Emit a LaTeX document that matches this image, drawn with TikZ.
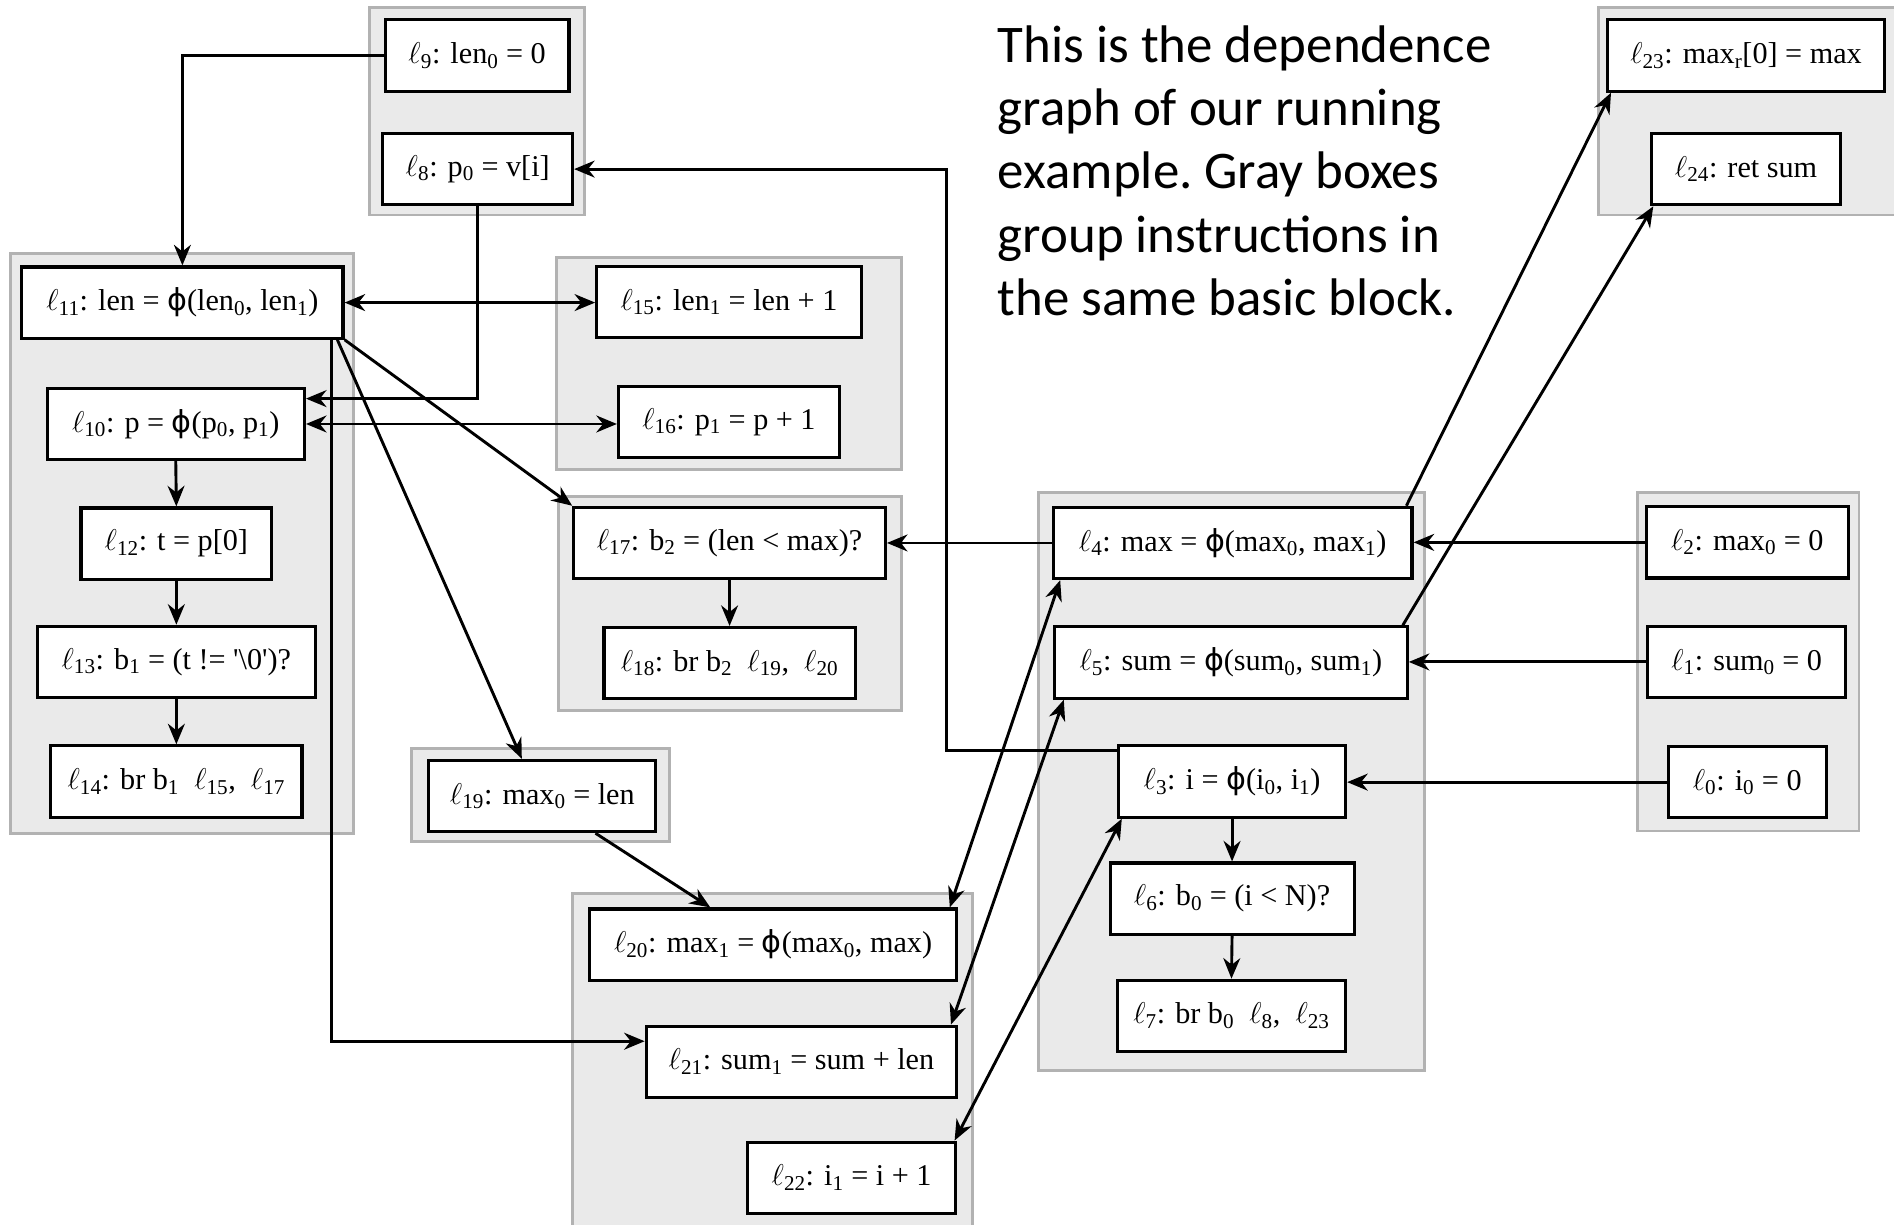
\documentclass[tikz,border=0pt]{standalone}
\usepackage{fontspec}
\setmainfont{Liberation Serif}
\newfontfamily\notefont{Carlito}
\newfontfamily\phifont{DejaVu Sans}
\usetikzlibrary{arrows.meta,calc}
\definecolor{groupfill}{HTML}{EAEAEA}
\definecolor{groupedge}{HTML}{B2B2B2}
% instruction label, subscript and phi helpers
\newcommand\lbl[1]{$\ell$\textsubscript{#1}}
\newcommand\sbs[1]{\textsubscript{#1}}
\newcommand\phis{{\phifont ϕ}}

\begin{document}
\begin{tikzpicture}[x=1pt,y=-1pt,
  group/.style={draw=groupedge, fill=groupfill, line width=2.4pt, inner sep=0pt},
  instr/.style={draw=black, fill=white, line width=2.6pt, inner sep=0pt,
    minimum height=59pt, font=\fontsize{25}{30}\selectfont},
  tip/.tip={Stealth[length=17pt,width=14pt,inset=5.5pt]},
  dep/.style={line width=2.4pt, -tip},
  dep2/.style={line width=2.4pt, tip-tip},
]
\fill[white] (0,0) rectangle (1568,1014);
\useasboundingbox (0,0) rectangle (1568,1014);
\clip (0,0) rectangle (1568,1014);

% basic blocks
\node[group, minimum width=178pt, minimum height=172pt] (g1) at (395,92) {};
\node[group, minimum width=284pt, minimum height=480pt] (g2) at (151,450) {};
\node[group, minimum width=285pt, minimum height=176pt] (g3) at (603.5,301) {};
\node[group, minimum width=284pt, minimum height=177pt] (g4) at (604,499.5) {};
\node[group, minimum width=213pt, minimum height=77pt]  (g5) at (447.5,658.5) {};
\node[group, minimum width=331pt, minimum height=284pt] (g6) at (639.5,882) {};
\node[group, minimum width=319pt, minimum height=478pt] (g7) at (1019.5,647) {};
\node[group, minimum width=183pt, minimum height=280pt] (g8) at (1447.5,548) {};
\node[group, minimum width=257pt, minimum height=172pt] (g9) at (1451.5,92) {};

% instructions
\node[instr, minimum width=152pt] (l9)  at (395,46)    {\lbl{9}: len\sbs{0} = 0};
\node[instr, minimum width=157pt] (l8)  at (395.5,140) {\lbl{8}: p\sbs{0} = v[i]};
\node[instr, minimum width=266pt] (l11) at (151,250.5) {\lbl{11}: len = \phis(len\sbs{0}, len\sbs{1})};
\node[instr, minimum width=213pt] (l10) at (145.5,351) {\lbl{10}: p = \phis(p\sbs{0}, p\sbs{1})};
\node[instr, minimum width=158pt] (l12) at (146,450)   {\lbl{12}: t = p[0]};
\node[instr, minimum width=230pt] (l13) at (146,548)   {\lbl{13}: b\sbs{1} = (t != \textquotesingle\textbackslash 0\textquotesingle)?};
\node[instr, minimum width=208pt] (l14) at (146,647)   {\lbl{14}: br b\sbs{1}\ \ \lbl{15},\ \ \lbl{17}};
\node[instr, minimum width=219pt] (l15) at (603.5,250) {\lbl{15}: len\sbs{1} = len + 1};
\node[instr, minimum width=183pt] (l16) at (603.5,349.5) {\lbl{16}: p\sbs{1} = p + 1};
\node[instr, minimum width=258pt] (l17) at (604,449.5) {\lbl{17}: b\sbs{2} = (len < max)?};
\node[instr, minimum width=208pt] (l18) at (604,549)   {\lbl{18}: br b\sbs{2}\ \ \lbl{19},\ \ \lbl{20}};
\node[instr, minimum width=188pt] (l19) at (449,659)   {\lbl{19}: max\sbs{0} = len};
\node[instr, minimum width=304pt] (l20) at (640,782)   {\lbl{20}: max\sbs{1} = \phis(max\sbs{0}, max)};
\node[instr, minimum width=257pt] (l21) at (663.5,879) {\lbl{21}: sum\sbs{1} = sum + len};
\node[instr, minimum width=172pt] (l22) at (705,975)   {\lbl{22}: i\sbs{1} = i + 1};
\node[instr, minimum width=297pt] (l4)  at (1020.5,449.5) {\lbl{4}: max = \phis(max\sbs{0}, max\sbs{1})};
\node[instr, minimum width=292pt] (l5)  at (1019,548.5) {\lbl{5}: sum = \phis(sum\sbs{0}, sum\sbs{1})};
\node[instr, minimum width=188pt] (l3)  at (1020,647)  {\lbl{3}: i = \phis(i\sbs{0}, i\sbs{1})};
\node[instr, minimum width=202pt] (l6)  at (1020,744)  {\lbl{6}: b\sbs{0} = (i < N)?};
\node[instr, minimum width=189pt] (l7)  at (1019.5,841) {\lbl{7}: br b\sbs{0}\ \ \lbl{8},\ \ \lbl{23}};
\node[instr, minimum width=167pt] (l2)  at (1446.5,449) {\lbl{2}: max\sbs{0} = 0};
\node[instr, minimum width=164pt] (l1)  at (1446,548)  {\lbl{1}: sum\sbs{0} = 0};
\node[instr, minimum width=131pt] (l0)  at (1446.5,647.5) {\lbl{0}: i\sbs{0} = 0};
\node[instr, minimum width=229pt] (l23) at (1445.5,46) {\lbl{23}: max\sbs{r}[0] = max};
\node[instr, minimum width=157pt] (l24) at (1445.5,140) {\lbl{24}: ret sum};

% explanation
\node[anchor=north west, inner sep=0pt, align=left,
      font=\notefont\frenchspacing\fontsize{43.8}{52.4}\selectfont] (note) at (826,21)
  {This is the dependence\\graph of our running\\example. Gray boxes\\group instructions in\\the same basic block.};

% dependences
\draw[dep] (l9.west) -| (l11.north);
\draw[dep] (l8.south) |- ($(l10.east)+(0,-21)$);
\draw[dep2] (l11.east) -- (l11.east -| l15.west);
\draw[dep2] (l10.east) -- (l10.east -| l16.west);
\draw[dep] (l10.south) -- (l12.north);
\draw[dep] (l12.south) -- (l13.north);
\draw[dep] (l13.south) -- (l14.north);
\draw[dep] (l17.south) -- (l18.north);
\draw[dep] (l11.south east) -- (l17.north west);
\draw[dep] ($(l11.south east)+(-6,0)$) -- ($(l19.north)+(-17,0)$);
\draw[dep] ($(l11.south east)+(-11,0)$) |- ($(l21.west)+(0,-17)$);
\draw[dep] ($(l19.south)+(44,0)$) -- ($(l20.north)+(-52,0)$);
\draw[dep] (l4.west) -- (l17.east);
\draw[dep] ($(l3.north west)+(0,5)$) -- ++(-141,0) |- (l8.east);
\draw[dep] (l2.west) -- (l2.west -| l4.east);
\draw[dep] (l1.west) -- (l1.west -| l5.east);
\draw[dep] (l0.west) -- (l0.west -| l3.east);
\draw[dep] (l3.south) -- (l6.north);
\draw[dep] (l6.south) -- (l7.north);
\draw[dep] ($(l4.north east)+(-6,0)$) -- ($(l23.south west)+(4,0)$);
\draw[dep] ($(l5.north east)+(-5,0)$) -- ($(l24.south west)+(3,0)$);
\draw[dep2] ($(l20.north east)+(-7,0)$) -- ($(l4.south west)+(7,0)$);
\draw[dep2] ($(l21.north east)+(-6,0)$) -- ($(l5.south west)+(9,0)$);
\draw[dep2] ($(l22.north east)+(-2,0)$) -- ($(l3.south west)+(4,0)$);
\end{tikzpicture}
\end{document}
